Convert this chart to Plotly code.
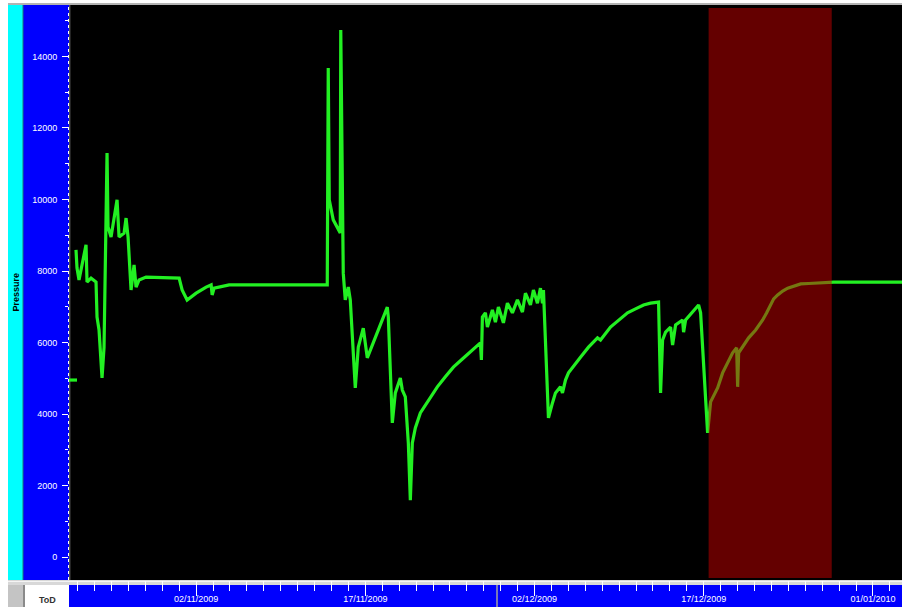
import plotly.graph_objects as go

# ---------------- data ----------------
dates = [
    "2009-10-21 17:32", "2009-10-22 10:35", None,
    "2009-10-22 08:26", "2009-10-22 10:35", "2009-10-22 14:51", "2009-10-23 05:46",
    "2009-10-23 07:52", "2009-10-23 16:24", "2009-10-24 03:02", "2009-10-24 05:10",
    "2009-10-24 09:25", "2009-10-24 13:41", "2009-10-24 15:49", "2009-10-24 20:05",
    "2009-10-25 00:20", "2009-10-25 02:28", "2009-10-25 04:36", "2009-10-25 10:59",
    "2009-10-25 23:46", "2009-10-26 04:02", "2009-10-26 14:40", "2009-10-26 18:56",
    "2009-10-26 23:11", "2009-10-27 05:34", "2009-10-27 11:58", "2009-10-27 16:13",
    "2009-10-27 22:36", "2009-10-28 13:31", "2009-10-31 11:49", "2009-10-31 18:12",
    "2009-11-01 04:50", "2009-11-02 00:00", "2009-11-02 21:17", "2009-11-03 07:56",
    "2009-11-03 10:05", "2009-11-03 14:20", "2009-11-04 22:16", "2009-11-13 14:58",
    "2009-11-13 17:06", "2009-11-13 19:14", "2009-11-14 03:45", "2009-11-14 18:39",
    "2009-11-14 19:43", "2009-11-14 22:55", "2009-11-15 01:02", "2009-11-15 05:18",
    "2009-11-15 11:41", "2009-11-15 15:58", "2009-11-16 02:36", "2009-11-16 08:59",
    "2009-11-16 19:38", "2009-11-17 04:09", "2009-11-18 22:45", "2009-11-19 00:52",
    "2009-11-19 09:23", "2009-11-19 15:47", "2009-11-20 02:25", "2009-11-20 06:41",
    "2009-11-20 13:04", "2009-11-20 19:28", "2009-11-20 23:44", "2009-11-21 03:59",
    "2009-11-21 10:22", "2009-11-21 21:01", "2009-11-22 14:04", "2009-11-23 09:13",
    "2009-11-24 02:15", "2009-11-24 19:18", "2009-11-25 14:28", "2009-11-26 07:30",
    "2009-11-27 04:48", "2009-11-27 06:55", "2009-11-27 09:03", "2009-11-27 15:26",
    "2009-11-27 19:42", "2009-11-28 06:20", "2009-11-28 12:44", "2009-11-28 19:07",
    "2009-11-29 05:46", "2009-11-29 14:17", "2009-11-30 00:56", "2009-11-30 11:35",
    "2009-11-30 22:14", "2009-12-01 04:37", "2009-12-01 15:16", "2009-12-01 21:39",
    "2009-12-02 06:10", "2009-12-02 12:33", "2009-12-02 16:49", "2009-12-02 18:57",
    "2009-12-03 05:36", "2009-12-03 14:07", "2009-12-03 20:31", "2009-12-04 07:09",
    "2009-12-04 11:25", "2009-12-04 17:49", "2009-12-05 00:12", "2009-12-06 01:45",
    "2009-12-06 18:48", "2009-12-07 13:57", "2009-12-07 20:20", "2009-12-08 17:38",
    "2009-12-09 10:39", "2009-12-10 05:50", "2009-12-10 22:52", "2009-12-11 15:55",
    "2009-12-12 06:49", "2009-12-12 23:51", "2009-12-13 04:06", "2009-12-13 08:22",
    "2009-12-13 14:46", "2009-12-14 01:25", "2009-12-14 05:40", "2009-12-14 12:03",
    "2009-12-15 02:57", "2009-12-15 05:05", "2009-12-15 09:21", "2009-12-16 13:02",
    "2009-12-16 17:17", "2009-12-17 08:12", "2009-12-17 14:35", "2009-12-18 05:30",
    "2009-12-18 16:09", "2009-12-19 13:26", "2009-12-19 21:57", "2009-12-20 00:05",
    "2009-12-20 02:13", "2009-12-20 23:31", "2009-12-21 14:25", "2009-12-22 05:20",
    "2009-12-22 13:51", "2009-12-22 22:22", "2009-12-23 04:45", "2009-12-23 13:16",
    "2009-12-23 23:55", "2009-12-24 10:34", "2009-12-24 23:20", "2009-12-25 14:15",
    "2009-12-26 07:16", "2009-12-27 02:27", "2009-12-28 12:32", "2010-01-03 15:27",
]
pressure = [
    4950, 4950, None,
    8590, 8080, 7750, 8730,
    7690, 7800, 7690, 6710,
    6350, 5430, 5010, 5870,
    9230, 11300, 9230, 8950,
    9990, 8950, 9060, 9480,
    8950, 7470, 8170, 7550,
    7750, 7830, 7800, 7470,
    7190, 7380, 7550, 7610,
    7330, 7520, 7610, 7610,
    13680, 9990, 9430, 9060,
    14740, 9790, 7940, 7190,
    7550, 7190, 4730, 5870,
    6400, 5570, 6990, 6710,
    3750, 4590, 5010, 4670,
    4480, 3190, 1590, 3190,
    3610, 4030, 4390, 4760,
    5040, 5310, 5540, 5730,
    5990, 5510, 6710, 6830,
    6430, 6910, 6570, 6990,
    6550, 7100, 6830, 7190,
    6850, 7380, 7050, 7470,
    7100, 7520, 7100, 7470,
    3890, 4310, 4590, 4760,
    4590, 4950, 5150, 5590,
    5870, 6130, 6070, 6430,
    6630, 6830, 6940, 7050,
    7100, 7130, 4590, 6070,
    6290, 6430, 5930, 6490,
    6630, 6290, 6630, 7050,
    6830, 3470, 4340, 4730,
    5150, 5710, 5850, 4760,
    5710, 6130, 6350, 6630,
    6830, 7050, 7220, 7330,
    7440, 7520, 7580, 7640,
    7650, 7660, 7690, 7690,
]
highlight_band = ["2009-12-17 10:20", "2009-12-28 08:17"]

y_tick_values = [0, 2000, 4000, 6000, 8000, 10000, 12000, 14000]
y_tick_labels = ["0", "2000", "4000", "6000", "8000", "10000", "12000", "14000"]
x_tick_dates = ["2009-11-02", "2009-11-17", "2009-12-02", "2009-12-17", "2010-01-01"]
x_tick_labels = ["02/11/2009", "17/11/2009", "02/12/2009", "17/12/2009", "01/01/2010"]
x_range = ["2009-10-21 17:32", "2010-01-03 13:46"]
y_range = [-643, 15440]

# ---------------- layout helpers (pixel -> paper) ----------------
W, H = 902, 607


def fx(px):
    return px / W


def fy(py):
    return 1 - py / H


def rect(x0, y0, x1, y1, color, layer="below"):
    return dict(type="rect", xref="paper", yref="paper",
                x0=fx(x0), x1=fx(x1), y0=fy(y1), y1=fy(y0),
                fillcolor=color, line=dict(width=0), layer=layer)


def vline(x, y0, y1, color, width=1, dash="solid"):
    return dict(type="line", xref="paper", yref="paper",
                x0=fx(x), x1=fx(x), y0=fy(y1), y1=fy(y0),
                line=dict(color=color, width=width, dash=dash), layer="below")


def hline(y, x0, x1, color, width=1):
    return dict(type="line", xref="paper", yref="paper",
                x0=fx(x0), x1=fx(x1), y0=fy(y), y1=fy(y),
                line=dict(color=color, width=width), layer="below")


BLUE = "#0000fe"

fig = go.Figure()
fig.add_trace(go.Scatter(
    x=dates, y=pressure, mode="lines",
    line=dict(color="#22f022", width=3.2),
    connectgaps=False, hoverinfo="skip", showlegend=False,
))

shapes = [
    hline(4, 8, 902, "#9a9a9a", 1.5),
    rect(8, 5, 23, 580, "#00ffff"),
    rect(23, 5, 69, 580, BLUE),
    vline(23, 5, 580, "#1a7a7a", 1),
    rect(8, 580, 902, 585, "#d8d8d8"),
    hline(581.5, 8, 902, "#f4f4f4", 1),
    rect(8, 585, 23, 607, "#c4c4c4"),
    rect(23, 585, 25, 607, "#8a8a8a"),
    rect(25, 585, 69, 607, "#ffffff"),
    rect(69, 585, 902, 607, BLUE),
    vline(497, 585, 607, "#a0a0a0", 1.5),
    vline(68.5, 5, 580, "#ffffff", 1, "dot"),
    vline(69.8, 5, 580, "#7a7a7a", 1),
    dict(type="rect", xref="x", yref="paper",
         x0=highlight_band[0], x1=highlight_band[1], y0=fy(578), y1=fy(8),
         fillcolor="rgb(200,0,0)", opacity=0.5, line=dict(width=0), layer="above"),
]

fig.update_layout(
    width=W, height=H,
    margin=dict(l=0, r=0, t=0, b=0),
    paper_bgcolor="#ffffff",
    plot_bgcolor="#000000",
    shapes=shapes,
    font=dict(family="Liberation Sans, Arial, sans-serif", size=9, color="#ffffff"),
    xaxis=dict(
        domain=[fx(69), 1.0], type="date", range=x_range,
        tickmode="array", tickvals=x_tick_dates, ticktext=x_tick_labels,
        ticks="outside", ticklen=15, tickcolor="#ffffff", tickwidth=1,
        minor=dict(tickmode="linear", tick0="2009-11-02", dtick=129600000,
                   ticks="outside", ticklen=10, tickcolor="#ffffff", tickwidth=1),
        tickfont=dict(size=9, color="#ffffff"),
        ticklabelstandoff=-5,
        showgrid=False, zeroline=False, showline=False,
    ),
    yaxis=dict(
        domain=[fy(580), fy(5)], range=y_range,
        tickmode="array", tickvals=y_tick_values, ticktext=y_tick_labels,
        ticks="outside", ticklen=6, tickcolor="#ffffff", tickwidth=1,
        minor=dict(tickmode="linear", tick0=0, dtick=1000,
                   ticks="outside", ticklen=3, tickcolor="#ffffff", tickwidth=1),
        tickfont=dict(size=9, color="#ffffff"),
        ticklabelstandoff=3,
        showgrid=False, zeroline=False, showline=False,
    ),
    annotations=[
        dict(text="<b>Pressure</b>", xref="paper", yref="paper",
             x=fx(15.5), y=fy(292), textangle=-90, showarrow=False,
             font=dict(size=9, color="#000000"), xanchor="center", yanchor="middle"),
        dict(text="<b>ToD</b>", xref="paper", yref="paper",
             x=fx(47), y=fy(600), showarrow=False,
             font=dict(size=9, color="#333333"), xanchor="center", yanchor="middle"),
    ],
)

fig.write_html("out.html", config={"displayModeBar": False},
               post_script="document.body.style.margin='0';document.body.style.overflow='hidden';")
